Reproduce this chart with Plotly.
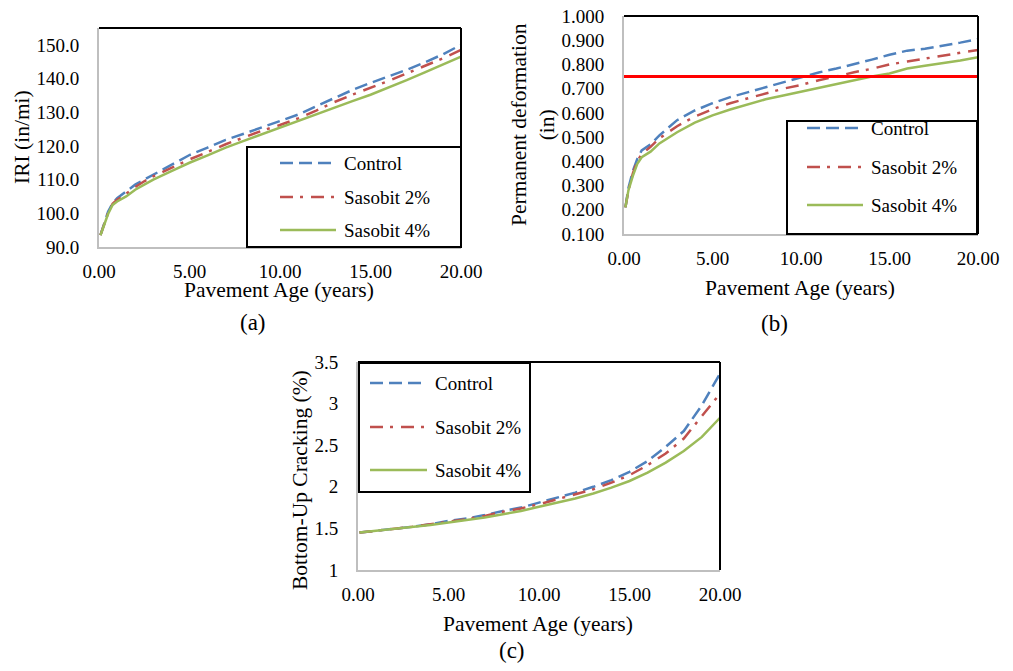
import plotly.graph_objects as go

W, H = 1013, 671
FONT = "Liberation Serif"

series_names = ["Control", "Sasobit 2%", "Sasobit 4%"]
colors = ["#4F81BD", "#C0504D", "#9BBB59"]
dashes = ["13px,6px", "13px,7px,3px,8px", "solid"]

# (a) IRI
iri_t = [0.08, 0.25, 0.5, 0.75, 1, 1.5, 2, 2.5, 3, 4, 5, 6, 7, 8, 9, 10, 11, 12, 13, 14, 15, 16, 17, 18, 19, 20]
iri_control = [93.5, 96.5, 100.5, 103.0, 104.5, 106.5, 108.5, 110.0, 111.5, 114.5, 117.3, 119.5, 121.8, 123.6, 125.5, 127.3, 129.3, 131.8, 134.3, 136.6, 138.7, 140.6, 142.6, 144.8, 147.2, 150.0]
iri_sas2 = [93.5, 96.0, 100.0, 102.8, 104.0, 105.8, 107.8, 109.5, 111.0, 113.5, 116.0, 118.2, 120.5, 122.5, 124.5, 126.2, 128.2, 130.5, 133.0, 135.2, 137.2, 139.3, 141.5, 143.7, 146.0, 148.5]
iri_sas4 = [93.5, 96.0, 99.8, 102.5, 103.5, 105.0, 107.0, 108.5, 110.0, 112.5, 115.0, 117.2, 119.5, 121.5, 123.5, 125.3, 127.3, 129.3, 131.3, 133.3, 135.2, 137.3, 139.5, 141.8, 144.2, 146.5]
iri_ticks = [90, 100, 110, 120, 130, 140, 150]

# (b) Permanent deformation
pd_t = [0.08, 0.25, 0.5, 0.75, 1, 1.5, 2, 3, 4, 5, 6, 7, 8, 9, 10, 11, 12, 13, 14, 15, 16, 17, 18, 19, 20]
pd_control = [0.21, 0.29, 0.36, 0.41, 0.445, 0.47, 0.507, 0.57, 0.61, 0.64, 0.665, 0.685, 0.705, 0.726, 0.746, 0.767, 0.783, 0.80, 0.82, 0.84, 0.857, 0.865, 0.877, 0.89, 0.905]
pd_sas2 = [0.21, 0.28, 0.35, 0.40, 0.43, 0.46, 0.495, 0.545, 0.585, 0.615, 0.64, 0.66, 0.68, 0.70, 0.715, 0.735, 0.75, 0.768, 0.782, 0.80, 0.812, 0.825, 0.835, 0.848, 0.86]
pd_sas4 = [0.21, 0.28, 0.34, 0.39, 0.417, 0.44, 0.474, 0.52, 0.56, 0.59, 0.614, 0.635, 0.656, 0.672, 0.688, 0.705, 0.72, 0.734, 0.75, 0.763, 0.783, 0.795, 0.805, 0.816, 0.83]
pd_threshold = 0.75
pd_ticks = [0.1, 0.2, 0.3, 0.4, 0.5, 0.6, 0.7, 0.8, 0.9, 1.0]

# (c) Bottom-up cracking
bu_t = [0.08, 1, 2, 3, 4, 5, 6, 7, 8, 9, 10, 11, 12, 13, 14, 15, 16, 17, 18, 19, 20]
bu_control = [1.45, 1.47, 1.49, 1.52, 1.55, 1.59, 1.62, 1.66, 1.71, 1.75, 1.81, 1.87, 1.93, 2.00, 2.08, 2.18, 2.31, 2.48, 2.67, 2.98, 3.36]
bu_sas2 = [1.45, 1.47, 1.49, 1.52, 1.55, 1.58, 1.61, 1.65, 1.70, 1.74, 1.79, 1.85, 1.91, 1.97, 2.05, 2.14, 2.26, 2.40, 2.58, 2.85, 3.12]
bu_sas4 = [1.45, 1.47, 1.49, 1.51, 1.54, 1.57, 1.60, 1.63, 1.67, 1.71, 1.76, 1.81, 1.86, 1.92, 1.99, 2.07, 2.17, 2.29, 2.43, 2.60, 2.83]
bu_ticks = [1, 1.5, 2, 2.5, 3, 3.5]
bu_ticktext = ["1", "1.5", "2", "2.5", "3", "3.5"]

x_ticks = [0, 5, 10, 15, 20]
x_ticktext = ["0.00", "5.00", "10.00", "15.00", "20.00"]


def px(x):
    return x / W


def py(y):
    return 1 - y / H


fig = go.Figure()

panels = [
    ("x", "y", iri_t, [iri_control, iri_sas2, iri_sas4]),
    ("x2", "y2", pd_t, [pd_control, pd_sas2, pd_sas4]),
    ("x3", "y3", bu_t, [bu_control, bu_sas2, bu_sas4]),
]
for xa, ya, t, ys in panels:
    for i, yv in enumerate(ys):
        fig.add_trace(go.Scatter(
            x=t, y=yv, mode="lines", xaxis=xa, yaxis=ya, showlegend=False,
            name=series_names[i],
            line=dict(color=colors[i], width=2.5, dash=dashes[i]),
        ))

fig.add_trace(go.Scatter(x=[0, 20], y=[pd_threshold, pd_threshold], mode="lines",
                         xaxis="x2", yaxis="y2", showlegend=False,
                         line=dict(color="#FF0000", width=3)))

# plot area pixel boxes: (left, right, top, bottom)
boxes = [(99, 461, 28, 247), (624, 978, 16, 234), (358, 720, 362, 570)]

tickfont = dict(family=FONT, size=19, color="black")
axis_common = dict(showgrid=False, zeroline=False, showline=True, linecolor="#BFBFBF",
                   linewidth=2, tickfont=tickfont, automargin=False)

yinfo = [
    dict(range=[90, 155], tickvals=iri_ticks, ticktext=[f"{v:.1f}" for v in iri_ticks]),
    dict(range=[0.1, 1.0], tickvals=pd_ticks, ticktext=[f"{v:.3f}" for v in pd_ticks]),
    dict(range=[1, 3.5], tickvals=bu_ticks, ticktext=bu_ticktext),
]

layout = dict(width=W, height=H, margin=dict(l=0, r=0, t=0, b=0, autoexpand=False),
              paper_bgcolor="white", plot_bgcolor="white", showlegend=False)
for k, (l, r, t_, b) in enumerate(boxes):
    sx = "" if k == 0 else str(k + 1)
    layout["xaxis" + sx] = dict(axis_common, domain=[px(l), px(r)], range=[0, 20],
                                tickvals=x_ticks, ticktext=x_ticktext, ticks="",
                                anchor="y" + sx, ticklabelstandoff=6)
    layout["yaxis" + sx] = dict(axis_common, domain=[py(b), py(t_)],
                                ticks="outside", ticklen=14, tickcolor="rgba(0,0,0,0)",
                                anchor="x" + sx, **yinfo[k])
fig.update_layout(**layout)

shapes = []
# top and right black borders
for (l, r, t_, b) in boxes:
    shapes.append(dict(type="line", xref="paper", yref="paper", x0=px(l), x1=px(r), y0=py(t_), y1=py(t_),
                       line=dict(color="black", width=2)))
    shapes.append(dict(type="line", xref="paper", yref="paper", x0=px(r), x1=px(r), y0=py(t_), y1=py(b),
                       line=dict(color="black", width=2)))

# legends: box, sample x range, rows, text x
legends = [
    ((247, 461, 147, 247), (280, 336), [163, 197, 230], 342),
    ((787, 977, 121, 234), (807, 863), [128, 167, 205], 869),
    ((359, 530, 363, 492), (370, 427), [383, 427, 470], 433),
]
annotations = []
for (bx0, bx1, by0, by1), (sx0, sx1), rows, tx in legends:
    shapes.append(dict(type="rect", xref="paper", yref="paper", x0=px(bx0), x1=px(bx1), y0=py(by1), y1=py(by0),
                       fillcolor="white", line=dict(color="black", width=2), layer="above"))
    for i, ry in enumerate(rows):
        shapes.append(dict(type="line", xref="paper", yref="paper", x0=px(sx0), x1=px(sx1), y0=py(ry), y1=py(ry),
                           line=dict(color=colors[i], width=2.5, dash=dashes[i]), layer="above"))
        annotations.append(dict(xref="paper", yref="paper", x=px(tx), y=py(ry), text=series_names[i],
                                showarrow=False, xanchor="left", yanchor="middle",
                                font=dict(family=FONT, size=19, color="black")))

titlefont = dict(family=FONT, size=21.5, color="black")
texts = [
    ("Pavement Age (years)", 279, 290, 0),
    ("IRI (in/mi)", 22, 137, -90),
    ("(a)", 253, 322, 0),
    ("Pavement Age (years)", 800, 288, 0),
    ("Permanent deformation<br>(in)", 533, 125, -90),
    ("(b)", 774, 323, 0),
    ("Pavement Age (years)", 538, 624, 0),
    ("Bottom-Up Cracking (%)", 300, 480, -90),
    ("(c)", 512, 650, 0),
]
for txt, x, y, ang in texts:
    f = dict(titlefont)
    if txt.startswith("("):
        f["size"] = 23
    annotations.append(dict(xref="paper", yref="paper", x=px(x), y=py(y), text=txt, textangle=ang,
                            showarrow=False, xanchor="center", yanchor="middle", font=f))

fig.update_layout(shapes=shapes, annotations=annotations)
fig.write_html("out.html")
